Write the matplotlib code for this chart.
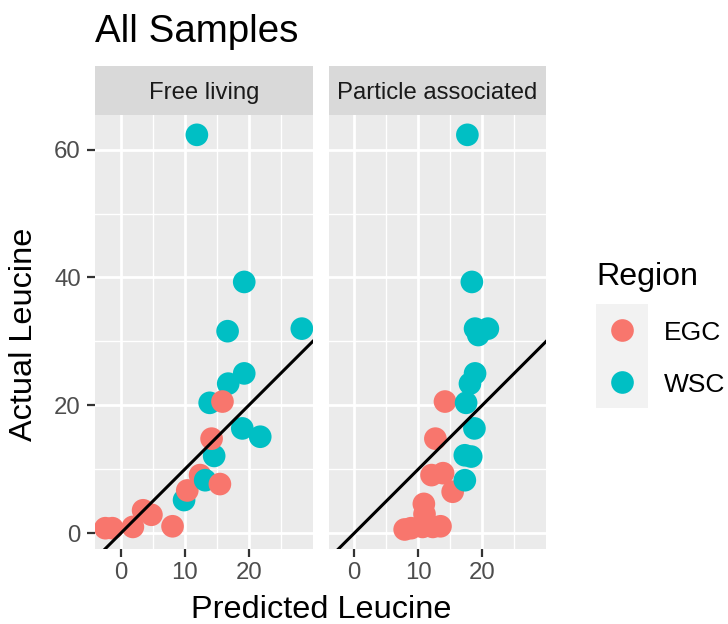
import matplotlib
matplotlib.use("Agg")
import matplotlib.pyplot as plt

plt.rcParams['font.family'] = ['Liberation Sans', 'DejaVu Sans']

# ---- data ----
panels = ["Free living", "Particle associated"]
regions = ["EGC", "WSC"]
region_colors = {"EGC": "#F8766D", "WSC": "#00BFC4"}

fl_x = [-2.4, -1.3, 1.9, 3.5, 4.8, 8.1, 11.9, 19.3, 16.7, 28.3, 19.3, 16.8,
        19.0, 21.8, 9.9, 10.4, 12.4, 13.2, 15.5, 14.6, 14.2, 13.9, 15.9]
fl_y = [0.8, 0.8, 1.0, 3.6, 2.9, 1.1, 62.3, 39.3, 31.6, 32.0, 25.0, 23.4,
        16.4, 15.1, 5.2, 6.7, 9.1, 8.3, 7.7, 12.1, 14.8, 20.4, 20.6]
fl_region = ["EGC", "EGC", "EGC", "EGC", "EGC", "EGC", "WSC", "WSC", "WSC", "WSC", "WSC", "WSC",
             "WSC", "WSC", "WSC", "EGC", "EGC", "WSC", "EGC", "WSC", "EGC", "WSC", "EGC"]

pa_x = [7.9, 8.9, 10.7, 12.3, 13.5, 11.0, 10.9, 12.1, 13.9, 15.4, 12.7, 14.2,
        17.7, 18.4, 18.9, 20.9, 19.4, 18.9, 18.1, 17.5, 18.8, 17.3, 18.3, 17.3]
pa_y = [0.6, 0.8, 1.0, 1.0, 1.1, 3.0, 4.6, 9.1, 9.4, 6.5, 14.8, 20.6,
        62.3, 39.3, 32.0, 32.0, 31.0, 25.0, 23.4, 20.4, 16.4, 12.2, 12.0, 8.3]
pa_region = ["EGC"] * 12 + ["WSC"] * 12

x_ticks = [0, 10, 20]
x_minor = [5, 15, 25]
y_ticks = [0, 20, 40, 60]
y_minor = [10, 30, 50]

# ---- layout ----
W, H = 728, 624
fig = plt.figure(figsize=(W / 100, H / 100), dpi=100)
fig.patch.set_facecolor("white")


def rect(x0, y0, x1, y1):
    return [x0 / W, 1 - y1 / H, (x1 - x0) / W, (y1 - y0) / H]


panel_px = [(95.3, 115, 312.7, 549.3), (328.7, 115, 546.1, 549.3)]
strip_px = [(95.3, 66, 312.7, 115), (328.7, 66, 546.1, 115)]
data = [(fl_x, fl_y, fl_region), (pa_x, pa_y, pa_region)]

for i, name in enumerate(panels):
    ax = fig.add_axes(rect(*panel_px[i]))
    ax.set_facecolor("#EBEBEB")
    for s in ax.spines.values():
        s.set_visible(False)
    ax.set_xlim(-3.97, 30.0)
    ax.set_ylim(-2.5, 65.4)
    ax.set_xticks(x_ticks)
    ax.set_xticks(x_minor, minor=True)
    ax.set_yticks(y_ticks)
    ax.set_yticks(y_minor, minor=True)
    ax.grid(which="major", color="white", linewidth=2.0)
    ax.grid(which="minor", color="white", linewidth=1.0)
    ax.set_axisbelow(True)
    ax.tick_params(which="minor", length=0)
    ax.tick_params(which="major", length=5.8, width=1.6, color="#333333",
                   labelcolor="#4D4D4D", labelsize=17.3)
    ax.tick_params(axis="x", pad=3.5)
    ax.tick_params(axis="y", pad=4.5)
    if i > 0:
        ax.tick_params(axis="y", length=0, labelleft=False)
    xs, ys, rs = data[i]
    ax.scatter(xs, ys, s=266, c=[region_colors[r] for r in rs], linewidths=0, zorder=3)
    ax.axline((0, 0), slope=1, color="black", linewidth=2.2, zorder=4)

    sax = fig.add_axes(rect(*strip_px[i]))
    sax.set_facecolor("#D9D9D9")
    for s in sax.spines.values():
        s.set_visible(False)
    sax.set_xticks([])
    sax.set_yticks([])
    sax.text(0.5, 16 / 49, name, ha="center", va="baseline", fontsize=17.2,
             color="#1A1A1A", transform=sax.transAxes)

# titles
fig.text(95.3 / W, 1 - 41.7 / H, "All Samples", fontsize=27.7, ha="left",
         va="baseline", color="black")
fig.text(321.7 / W, 1 - 617.5 / H, "Predicted Leucine", fontsize=23.4, ha="center",
         va="baseline", color="black")
fig.text(24 / W, 1 - 334 / H, "Actual Leucine", fontsize=23.4, ha="center",
         va="center", rotation=90, color="black")

# legend
fig.text(596.7 / W, 1 - 285 / H, "Region", fontsize=23.1, ha="left", va="baseline")
lax = fig.add_axes(rect(596, 304, 648, 408))
lax.set_facecolor("#F2F2F2")
for s in lax.spines.values():
    s.set_visible(False)
lax.set_xticks([])
lax.set_yticks([])
lax.set_xlim(0, 1)
lax.set_ylim(0, 2)
for k, r in enumerate(regions):
    lax.scatter([0.5], [1.5 - k], s=266, c=region_colors[r], linewidths=0)
    fig.text(664.3 / W, 1 - (340 + k * 52) / H, r, fontsize=19, ha="left",
             va="baseline")

fig.savefig("out.png", dpi=100)
